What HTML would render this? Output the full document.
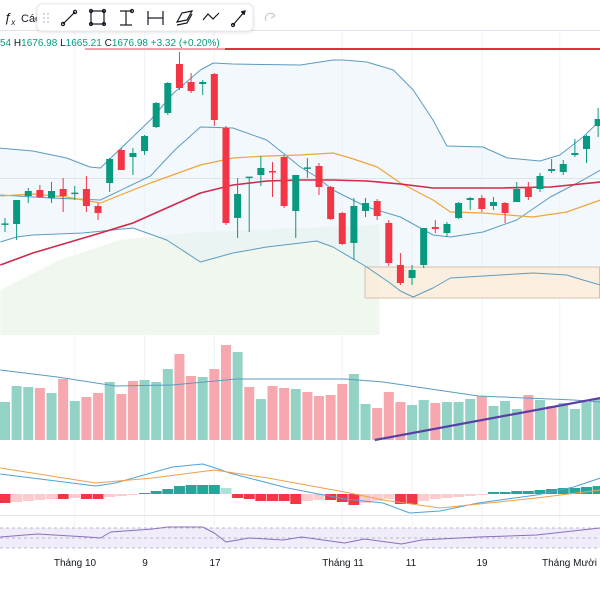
<!DOCTYPE html>
<html><head><meta charset="utf-8"><style>
html,body{margin:0;padding:0;background:#fff;width:600px;height:600px;overflow:hidden;font-family:"Liberation Sans","DejaVu Sans",sans-serif}
svg{display:block}
</style></head><body>
<svg id="chart" width="600" height="600" viewBox="0 0 600 600" xmlns="http://www.w3.org/2000/svg">
<g id="bg"></g>
<g id="main"></g>
<g id="vol"></g>
<g id="macd"></g>
<g id="rsi"></g>
<g id="axis">
  <text x="75" y="566" font-size="10" fill="#131722" text-anchor="middle">Tháng 10</text>
  <text x="145" y="566" font-size="10" fill="#131722" text-anchor="middle">9</text>
  <text x="215" y="566" font-size="10" fill="#131722" text-anchor="middle">17</text>
  <text x="343" y="566" font-size="10" fill="#131722" text-anchor="middle">Tháng 11</text>
  <text x="411" y="566" font-size="10" fill="#131722" text-anchor="middle">11</text>
  <text x="482" y="566" font-size="10" fill="#131722" text-anchor="middle">19</text>
  <text x="542" y="566" font-size="10" fill="#131722">Tháng Mười hai</text>
</g>
<g id="top">
  <line x1="0" y1="30.5" x2="600" y2="30.5" stroke="#e0e3eb" stroke-width="1"/>
  <text x="4" y="22" font-size="13" fill="#131722" font-style="italic">ƒ<tspan font-size="8" dy="3">x</tspan></text>
  <text x="21" y="22" font-size="11" fill="#131722">Các</text>
  <g>
    <rect x="37" y="4" width="216" height="27" rx="5" fill="#fff" stroke="#e6e8ee" filter="url(#sh)"/>
    <g fill="#c9ccd4"><circle cx="44" cy="14" r="1"/><circle cx="48" cy="14" r="1"/><circle cx="44" cy="18" r="1"/><circle cx="48" cy="18" r="1"/><circle cx="44" cy="22" r="1"/><circle cx="48" cy="22" r="1"/></g>
    <g stroke="#131722" stroke-width="1.2" fill="none">
      <g><line x1="63" y1="24" x2="75" y2="12"/><circle cx="63" cy="24" r="1.6"/><circle cx="75" cy="12" r="1.6"/></g>
      <g><rect x="91" y="11" width="13" height="13"/><circle cx="91" cy="11" r="1.5"/><circle cx="104" cy="11" r="1.5"/><circle cx="91" cy="24" r="1.5"/><circle cx="104" cy="24" r="1.5"/></g>
      <g><line x1="120" y1="11" x2="132" y2="11"/><line x1="120" y1="25" x2="132" y2="25"/><line x1="126" y1="11" x2="126" y2="25"/><circle cx="132" cy="11" r="1.5"/></g>
      <g><line x1="148" y1="11" x2="148" y2="25"/><line x1="163" y1="11" x2="163" y2="25"/><line x1="148" y1="18" x2="163" y2="18"/></g>
      <g><path d="M177 22 L182 13 L192 11 L187 20 Z"/><path d="M177 25 L187 23 L192 14"/></g>
      <g><path d="M203 20 L208 14 L213 19 L219 13"/></g>
      <g><line x1="233" y1="25" x2="245" y2="11"/><circle cx="233" cy="25" r="1.5"/><path d="M241 12 L245 11 L244 15" fill="#131722"/></g>
    </g>
  </g>
  <path d="M266 21 A5 5 0 0 1 275 16 L272 13 M275 16 L271 18" stroke="#c9ccd4" stroke-width="1.2" fill="none"/>
</g>
<g id="legend">
  <text x="0" y="46" font-size="10" fill="#089981"><tspan>54 </tspan><tspan fill="#131722"> H</tspan><tspan>1676.98 </tspan><tspan fill="#131722"> L</tspan><tspan>1665.21 </tspan><tspan fill="#131722"> C</tspan><tspan>1676.98 </tspan><tspan> +3.32 (+0.20%)</tspan></text>
</g>
<defs><filter id="sh" x="-10%" y="-30%" width="120%" height="160%"><feDropShadow dx="0" dy="1" stdDeviation="1.5" flood-color="#000" flood-opacity="0.12"/></filter></defs>
</svg>
<script>
// ---- candle data (prices) ----
const opens=[1588,1588,1602,1605,1601,1605.5,1603.5,1605.5,1597,1608.5,1625,1621.5,1624.5,1636.5,1643.5,1668,1659,1658,1663,1636,1591,1611.5,1612.5,1614.5,1621.5,1594.5,1616,1617,1606.5,1593.5,1578.5,1594.5,1599.5,1588.5,1567.5,1561,1567.5,1586.5,1583.5,1591,1600,1601,1597,1598.5,1599,1606.5,1605.5,1614.5,1614,1622.5,1625.5,1637];
const highs=[1591,1600,1606,1607.5,1609,1611,1607,1612,1598.5,1621,1626,1626,1632.5,1649,1659,1674,1663.5,1660,1663.5,1637,1611,1611.5,1622,1619,1622.5,1612.5,1621,1618.5,1607,1594,1601,1601,1600.5,1590,1573.5,1567.5,1586,1590,1589,1599,1601.5,1602.5,1601.5,1599,1609,1609,1613.5,1620.5,1620,1630.5,1632.5,1646];
const lows=[1584,1580,1598.5,1601,1598.5,1594,1600,1594,1590,1604,1615,1612.5,1622.5,1636,1642.5,1655,1653.5,1652.5,1637,1587.5,1581,1584,1607,1601.5,1596,1581,1611,1602.5,1590,1577.5,1570,1591.5,1590,1567,1557.5,1557.5,1566,1583.5,1581.5,1590.5,1595,1594,1595,1588.5,1599,1600,1604,1613.5,1612.5,1621.5,1618.5,1631.5];
const closes=[1588.3,1600,1604.5,1601.5,1604.5,1602,1603.7,1597,1593.5,1620.5,1615,1623.5,1632,1648.5,1658.5,1656,1654.5,1659,1640,1588.5,1603,1611.7,1616,1614,1597,1612.5,1616.3,1606.5,1590.5,1578,1597,1598.5,1592,1568.5,1558.5,1565,1586,1585.5,1588,1598.5,1601,1595.5,1599,1593.5,1605.5,1601.5,1612,1615.5,1618,1623.5,1632,1640.5];
// ---- overlay line knots: [candle index] and [price] ----
const bbUpperIdx=[-0.5,2.4,5.3,7.3,8.2,12.5,14.5,16.8,17.9,19.6,25.4,28.2,29.1,31.1,33.4,35.1,36.8,38,41.1,43.2,46,47.7,49.7,51.2];
const bbUpperVal=[1626,1624.5,1621,1616.5,1616,1640,1653.5,1665,1668.5,1668,1667.5,1670,1670,1669,1665,1655,1640,1627,1626.5,1621,1619.5,1622.5,1631.5,1640];
const bbMidIdx=[-0.4,3.9,8.2,12.5,14.6,16.8,19.6,22.5,23.9,25.4,26.8,28.2,31.1,34,36.8,38.3,41.1,44,46.9,49.7,51.2];
const bbMidVal=[1602.5,1601,1600,1612,1625,1636.5,1636,1630,1623.5,1616.5,1611.5,1605,1596.5,1591.5,1582.5,1581.5,1584,1590,1601.5,1610,1615];
const bbLowIdx=[-0.4,1,2.4,6.7,11,13.9,16.8,19.6,22.5,25.4,26.8,28.2,31.1,33.1,34,35.1,36.8,38.3,42.6,45.4,48.3,49.7,51.2];
const bbLowVal=[1579,1581.5,1582.5,1583.5,1586,1580,1569,1573.5,1576.5,1578.5,1579.5,1576.5,1566.5,1558.5,1554.5,1551.5,1556,1561,1562.5,1563.5,1562.5,1560,1557.5];
const maFastIdx=[-0.4,2.4,5.3,8.2,12.5,16.8,19.6,22.5,25.4,28.2,29.7,32,34,36.8,38.3,41.1,45.4,48.3,51.2];
const maFastVal=[1602,1603,1601.5,1598.5,1608.5,1617.5,1621,1622,1622.5,1623.5,1621,1616.5,1608.5,1600,1594,1593.5,1591.5,1594,1600];
const maSlowIdx=[-0.4,2.4,5.3,8.2,11,13.9,16.8,19.6,22.5,25.4,28.2,31.1,34,36.8,42.6,46.9,51.2];
const maSlowVal=[1567.5,1573.5,1578.5,1583.5,1588.5,1596,1603.5,1607.5,1609.5,1610,1610,1609.5,1608,1606,1606,1606.5,1609];
const cloudIdx=[-0.4,4.7,9.9,16.8,25.4,32.2];
const cloudTop=[1555,1570,1580,1584,1586,1587.5];
const cloudBottom=1532.5;
const lastPrice=1675.5;
const zoneTop=1566.5, zoneBottom=1551;
const zoneStartIdx=31;
// ---- volume ----
const volumes=[380,540,530,520,470,610,390,430,470,580,460,590,600,580,710,860,640,630,710,950,880,530,410,540,520,510,480,440,450,560,660,360,320,480,380,350,400,370,380,380,410,440,340,390,310,450,400,340,370,310,380,410];
const volUp=[1,1,1,0,1,0,1,0,0,1,0,0,1,1,1,0,0,1,0,0,1,0,1,0,0,1,0,0,0,0,1,1,0,0,0,1,1,0,1,1,1,0,1,1,1,0,1,0,1,1,1,1];
const volMaIdx=[-0.4,4.5,9.5,14.4,19.9,29.2,32.5,40.7,48.9,51.2];
const volMaVal=[700,630,540,550,610,610,580,440,400,380];
const volTrendIdx=[31.8,51.2];
const volTrendVal=[0,420];
// ---- MACD ----
const macdHist=[-9,-8,-7,-6,-5,-5,-4,-5,-5,-3,-2,-1,1,3,5,8,9,9,9,6,-4,-5,-7,-7,-7,-10,-7,-6,-6,-8,-11,-9,-7,-5,-10,-10,-7,-5,-4,-3,-2,-1,2,2,3,3,4,5,6,6,7,8];
const macdIdx=[-0.4,7.8,9.5,14.4,17,18.1,19.3,24.3,29.2,32.5,34.8,37.4,40.7,45.7,48.9,51.2];
const macdVal=[20,8,11,27,30,26,21,6,-5,-9,-19,-17,-9,-1,7,16];
const signalIdx=[-0.4,7.8,12.7,18,22.6,29.2,32.5,37.4,45.7,51.2];
const signalVal=[26,11,16,24,16,2,-6,-14,-4,4];
// ---- RSI ----
const rsiIdx=[-0.4,2.8,7.1,8.2,9.1,12.7,14,17,18,19,21,23.9,25.5,29.2,30.9,34.1,35.8,40.7,45.7,51.2];
const rsiVal=[52,58,52,50,62,68,72,72,60,42,50,46,52,40,48,38,46,52,56,70];
const rsiLevels=[70,50,30];
const gridIdx=[6,12,18,29,35,41,47.7];

// ---- scales ----
const NS='http://www.w3.org/2000/svg';
const xAt=i=>5+i*11.63;
const yP=p=>(1700-p)*2;
const yV=v=>440-v/10;
const yM=v=>494-v;
const yR=r=>538-(r-50)*0.5;
function mk(tag,attrs,parent){const e=document.createElementNS(NS,tag);for(const k in attrs)e.setAttribute(k,attrs[k]);parent.appendChild(e);return e;}
function pts(idx,val,ys){return idx.map((i,k)=>xAt(i).toFixed(1)+','+ys(val[k]).toFixed(1));}
const bg=document.getElementById('bg'),main=document.getElementById('main'),vol=document.getElementById('vol'),macd=document.getElementById('macd'),rsi=document.getElementById('rsi');

gridIdx.forEach(g=>{const l=mk('line',{x1:xAt(g),x2:xAt(g),y1:31,y2:552,stroke:'#f0f3fa','stroke-width':1},bg);

});
{const top=pts(cloudIdx,cloudTop,yP);const last=cloudIdx[cloudIdx.length-1];
const p=mk('polygon',{points:top.join(' ')+' '+xAt(last)+','+yP(cloudBottom)+' '+xAt(cloudIdx[0])+','+yP(cloudBottom),fill:'#f0f7ef'},bg);

}
{const up=pts(bbUpperIdx,bbUpperVal,yP),lo=pts(bbLowIdx,bbLowVal,yP).reverse();
const p=mk('polygon',{points:up.concat(lo).join(' '),fill:'#e3f0f8','fill-opacity':0.45},bg);

}
{const l=mk('line',{x1:0,x2:600,y1:178.5,y2:178.5,stroke:'#dfe3ea','stroke-width':1},bg);

}
{const r=mk('rect',{x:xAt(zoneStartIdx)-0.5,y:yP(zoneTop),width:600-xAt(zoneStartIdx),height:yP(zoneBottom)-yP(zoneTop),fill:'#fbebd8','fill-opacity':0.8,stroke:'#d8bfae','stroke-width':1},bg);

}
{const l1=mk('line',{x1:85,x2:225,y1:yP(lastPrice),y2:yP(lastPrice),stroke:'#f2a0a8','stroke-width':2},main);


const l2=mk('line',{x1:225,x2:600,y1:yP(lastPrice),y2:yP(lastPrice),stroke:'#e0303f','stroke-width':2},main);

}
function line(parent,idx,val,ys,color,w,name){const l=mk('polyline',{points:pts(idx,val,ys).join(' '),fill:'none',stroke:color,'stroke-width':w,'stroke-linejoin':'round'},parent);

return l;}
line(main,bbUpperIdx,bbUpperVal,yP,'#5b9cc0',1,'bollinger-upper');
line(main,bbLowIdx,bbLowVal,yP,'#5b9cc0',1,'bollinger-lower');
line(main,bbMidIdx,bbMidVal,yP,'#5b9cc0',1,'bollinger-middle');
line(main,maFastIdx,maFastVal,yP,'#f0a53a',1.2,'ma-fast');
line(main,maSlowIdx,maSlowVal,yP,'#d2284a',1.6,'ma-slow');
opens.forEach((o,i)=>{const c=closes[i],up=c>=o,col=up?'#089981':'#f23645',x=xAt(i);
const g=mk('g',{},main);


mk('line',{x1:x,x2:x,y1:yP(highs[i]),y2:yP(lows[i]),stroke:col,'stroke-width':1},g);
const t=Math.min(yP(o),yP(c)),h=Math.max(1.5,Math.abs(yP(o)-yP(c)));
mk('rect',{x:x-3.5,y:t,width:7,height:h,fill:col},g);});
volumes.forEach((v,i)=>{const x=xAt(i);const r=mk('rect',{x:x-5,y:yV(v),width:10,height:440-yV(v),fill:volUp[i]?'#92d3c5':'#f7a8af'},vol);

});
line(vol,volMaIdx,volMaVal,yV,'#5b9cc0',1,'volume-ma');
{const l=line(vol,volTrendIdx,volTrendVal,yV,'#5b3fa8',2.2,'volume-trendline');}
macdHist.forEach((h,i)=>{const prev=i?macdHist[i-1]:h;let col;
if(h>=0)col=h>=prev?'#26a69a':'#b2dfdb';else col=h<=prev?'#f23645':'#fccbcd';
const x=xAt(i);const r=mk('rect',{x:x-5.5,y:Math.min(yM(0),yM(h)),width:11,height:Math.abs(h),fill:col},macd);

});
line(macd,macdIdx,macdVal,yM,'#4fa3d6',1,'macd-line');
line(macd,signalIdx,signalVal,yM,'#f0a04b',1,'signal-line');
{const l=mk('line',{x1:0,x2:600,y1:515.5,y2:515.5,stroke:'#e0e3eb'},macd);

}
{const r=mk('rect',{x:0,y:yR(70),width:600,height:yR(30)-yR(70),fill:'#f1ecfa'},rsi);

}
rsiLevels.forEach(l=>{const e=mk('line',{x1:0,x2:600,y1:yR(l),y2:yR(l),stroke:'#a8a4b8','stroke-width':0.8,'stroke-dasharray':'3,3'},rsi);

});
line(rsi,rsiIdx,rsiVal,yR,'#8a6fbf',1,'rsi-line');
</script>
</body></html>
